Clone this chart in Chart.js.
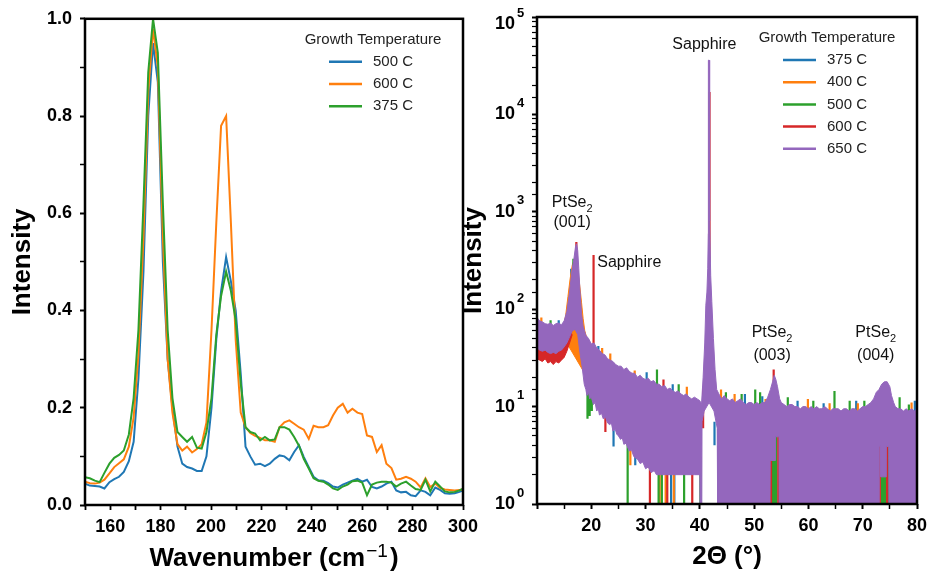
<!DOCTYPE html>
<html>
<head>
<meta charset="utf-8">
<title>PtSe2 Raman and XRD</title>
<script src="https://cdn.jsdelivr.net/npm/chart.js@4.4.1/dist/chart.umd.min.js"></script>
<style>
  body { margin: 0; background: #fff; }
  #wrap { position: relative; width: 929px; height: 576px; overflow: hidden; }
  #raman { position: absolute; left: 0; top: 0; }
  #xrd { position: absolute; left: 460px; top: 0; }
</style>
</head>
<body>
<div id="wrap">
  <canvas id="raman" width="490" height="576"></canvas>
  <canvas id="xrd" width="480" height="576"></canvas>
</div>
<script>
const FONT = "'Liberation Sans', Arial, Helvetica, sans-serif";
Chart.defaults.font.family = FONT;
Chart.defaults.color = '#000';

const BLUE = '#1f77b4', ORANGE = '#ff7f0e', GREEN = '#2ca02c', RED = '#d62728', PURPLE = '#9467bd';

// ---- Raman spectra (normalised) ----
const ramanShift = [150.0, 151.9, 153.9, 155.8, 157.7, 159.7, 161.6, 163.5, 165.4, 167.4,
  169.3, 171.2, 173.2, 175.1, 177.0, 178.9, 180.9, 182.8, 184.7, 186.7,
  188.6, 190.5, 192.5, 194.4, 196.3, 198.2, 200.2, 202.1, 204.0, 206.0,
  207.9, 209.8, 211.8, 213.7, 215.6, 217.5, 219.5, 221.4, 223.3, 225.3,
  227.2, 229.1, 231.1, 233.0, 234.9, 236.8, 238.8, 240.7, 242.6, 244.6,
  246.5, 248.4, 250.3, 252.3, 254.2, 256.1, 258.1, 260.0, 261.9, 263.9,
  265.8, 267.7, 269.6, 271.6, 273.5, 275.4, 277.4, 279.3, 281.2, 283.2,
  285.1, 287.0, 289.0, 290.9, 292.8, 294.7, 296.7, 298.6, 300.5];

const raman500 = [0.044, 0.040, 0.039, 0.038, 0.034, 0.047, 0.053, 0.058, 0.068, 0.090,
  0.130, 0.260, 0.480, 0.800, 0.950, 0.870, 0.500, 0.300, 0.200, 0.120,
  0.085, 0.078, 0.075, 0.070, 0.070, 0.100, 0.200, 0.340, 0.440, 0.510,
  0.460, 0.400, 0.270, 0.120, 0.100, 0.083, 0.085, 0.080, 0.085, 0.095,
  0.102, 0.100, 0.092, 0.109, 0.123, 0.099, 0.078, 0.058, 0.051, 0.050,
  0.045, 0.038, 0.036, 0.042, 0.046, 0.050, 0.054, 0.048, 0.052, 0.037,
  0.034, 0.038, 0.044, 0.048, 0.030, 0.026, 0.027, 0.020, 0.018, 0.030,
  0.027, 0.020, 0.036, 0.031, 0.024, 0.023, 0.024, 0.027, 0.031];

const raman600 = [0.048, 0.045, 0.044, 0.046, 0.052, 0.065, 0.078, 0.086, 0.094, 0.120,
  0.180, 0.310, 0.550, 0.850, 0.980, 0.900, 0.550, 0.300, 0.190, 0.125,
  0.112, 0.120, 0.108, 0.115, 0.125, 0.170, 0.360, 0.580, 0.780, 0.800,
  0.580, 0.340, 0.190, 0.160, 0.148, 0.142, 0.138, 0.133, 0.133, 0.130,
  0.160, 0.170, 0.174, 0.167, 0.160, 0.155, 0.136, 0.163, 0.160, 0.160,
  0.164, 0.184, 0.200, 0.208, 0.190, 0.198, 0.190, 0.187, 0.143, 0.140,
  0.109, 0.123, 0.085, 0.076, 0.052, 0.054, 0.058, 0.054, 0.048, 0.036,
  0.055, 0.037, 0.044, 0.035, 0.032, 0.031, 0.030, 0.031, 0.032];

const raman375 = [0.057, 0.055, 0.050, 0.047, 0.066, 0.085, 0.097, 0.103, 0.112, 0.145,
  0.220, 0.360, 0.620, 0.890, 1.000, 0.930, 0.620, 0.360, 0.220, 0.150,
  0.140, 0.130, 0.140, 0.118, 0.116, 0.150, 0.220, 0.350, 0.430, 0.480,
  0.440, 0.380, 0.250, 0.160, 0.150, 0.147, 0.133, 0.140, 0.133, 0.135,
  0.160, 0.160, 0.155, 0.140, 0.122, 0.095, 0.075, 0.055, 0.050, 0.048,
  0.042, 0.034, 0.031, 0.038, 0.042, 0.049, 0.050, 0.046, 0.020, 0.042,
  0.046, 0.048, 0.048, 0.046, 0.038, 0.044, 0.048, 0.040, 0.033, 0.031,
  0.052, 0.028, 0.048, 0.038, 0.028, 0.026, 0.027, 0.030, 0.035];

const ramanLegend = ['500 C', '600 C', '375 C'];
const ramanColors = [BLUE, ORANGE, GREEN];

// ---- XRD scans: [2theta, counts] envelopes of the noisy traces ----
const xrdHi650 = [[10.0,82],[10.5,76],[11.0,74],[11.5,71],[12.0,70],[12.5,72],[13.0,68],[13.5,71],[14.0,72],[14.5,69],
  [15.0,76],[15.5,95],[16.0,150],[16.4,240],[16.8,330],[17.1,440],[17.3,470],[17.5,400],[17.7,260],[17.9,160],
  [18.2,90],[18.5,66],[19.0,54],[19.5,50],[20.0,44],[20.5,45],[21.0,40],[21.5,38],[22.0,35],[22.5,34],
  [23.0,31],[23.5,30],[24.0,29],[24.5,27],[25.0,26],[25.5,26],[26.0,24],[26.5,25],[27.0,23],[27.5,22],
  [28.0,22],[28.5,20],[29.0,21],[29.5,19.5],[30.0,19],[30.5,19.5],[31.0,18],[31.5,18.5],[32.0,17],[32.5,17],
  [33.0,16],[33.5,16.5],[34.0,15],[34.5,15.5],[35.0,14.5],[35.5,14],[36.0,14.5],[36.5,13.5],[37.0,13],[37.5,13.5],
  [38.0,12.5],[38.5,12],[39.0,12.5],[39.5,12],[40.0,11.5],[40.3,10.5],[40.6,20],[40.9,45],[41.1,110],[41.3,150],
  [41.45,260],[41.55,600],[41.57,36000],[41.71,36000],[41.72,17000],[41.82,17000],[41.86,800],[42.0,220],[42.2,120],[42.5,50],
  [42.8,24],[43.1,15],[43.5,13.5],[44.0,12],[44.5,13],[45.0,12],[45.5,11.5],[46.0,12],[46.5,11],[47.0,11.5],
  [47.5,12],[48.0,11],[48.5,10.5],[49.0,11],[49.5,11],[50.0,10.5],[50.5,11],[51.0,10.5],[51.5,11],[52.0,11],
  [52.5,12.5],[53.0,15],[53.4,18],[53.7,21],[54.0,19],[54.3,16],[54.7,12],[55.0,11],[55.5,10.5],[56.0,10],
  [56.5,10.5],[57.0,10.5],[57.5,10],[58.0,10],[58.5,9.5],[59.0,10],[59.5,10],[60.0,9.5],[60.5,10],[61.0,9.5],
  [61.5,10],[62.0,9.5],[62.5,9.5],[63.0,10],[63.5,9.5],[64.0,9],[64.5,9.5],[65.0,9.5],[65.5,9.5],[66.0,9],
  [66.5,9.5],[67.0,9.5],[67.5,9],[68.0,9.5],[68.5,9.5],[69.0,9],[69.5,9.5],[70.0,10],[70.5,10],[71.0,10.5],
  [71.5,11],[72.0,12],[72.5,14],[73.0,15],[73.5,17],[74.0,18],[74.5,18],[75.0,16],[75.3,13],[75.7,11],
  [76.0,10],[76.5,9.5],[77.0,9.5],[77.5,9],[78.0,9.5],[78.5,9],[79.0,9.5],[79.5,9],[80.0,9.5]];

const xrdLo650 = [[10.0,40],[10.5,38],[11.0,37],[11.5,38],[12.0,36],[12.5,35],[13.0,36],[13.5,35],[14.0,37],[14.5,38],
  [15.0,41],[15.5,45],[16.0,52],[16.5,60],[17.0,62],[17.5,55],[17.9,36],[18.3,26],[18.7,17],[19.0,15],
  [19.2,13],[19.5,14],[19.7,12],[20.0,12.5],[20.4,10.5],[20.7,11],[21.0,9],[21.3,9.5],[21.5,8.2],[21.9,8.5],
  [22.2,7.5],[22.6,7.8],[23.0,6.8],[23.4,6.5],[23.7,6.8],[24.0,5.6],[24.4,5.9],[24.7,5.2],[25.0,5.0],[25.4,4.6],
  [25.7,4.8],[26.0,4.1],[26.4,4.2],[26.8,3.7],[27.0,3.5],[27.4,3.6],[27.8,3.1],[28.0,3.0],[28.5,2.9],[29.0,2.6],
  [29.5,2.7],[30.0,2.3],[30.5,2.4],[31.0,2.1],[31.6,2.2],[32.0,2.0],[33.0,2.0],[35.0,2.0],[37.0,2.0],[39.0,2.0],
  [40.0,2.0],[40.05,0.5],[40.35,0.5],[40.4,7],[40.8,9],[41.7,11],[42.6,9],[43.2,6],[43.3,0.5],[52.9,0.5],
  [52.95,2.8],[53.9,2.8],[53.95,4.9],[54.6,4.9],[54.65,0.5],[73.0,0.5],[73.05,3.9],[73.3,3.9],[73.35,1.9],[74.3,1.9],
  [74.35,3.9],[74.8,3.9],[74.85,0.5],[80.0,0.5]];

const xrdHi600 = [[10.0,55],[16.5,60]];
const xrdLo600 = [[10.0,31],[10.5,30],[11.0,29],[11.5,31],[12.0,28],[12.5,29],[13.0,27],[13.5,29],[14.0,28],[14.5,30],
  [15.0,32],[15.5,37],[16.0,45],[16.5,55]];

const xrdHi400 = [[15.0,70],[15.3,88],[15.7,135],[16.1,205],[16.5,285],[16.9,330],[17.3,300],[17.6,230],[17.9,170],[18.2,118],
  [18.5,80],[18.8,60],[19.2,50]];
const xrdLo400 = [[15.0,50],[19.2,20]];

// single noisy channels that poke out of the 650 C trace: [2theta, low, high]
const spikes375 = [[14.0,60,77],[16.3,120,260],[21.3,34,42],[24.1,3.9,7],[28.1,2.5,4],[30.2,15,22.5],[34.7,0.5,2.5],
  [35.0,12,17],[35.3,0.5,2.5],[42.7,4,7],[48.3,9,13.5],[51.5,9,12.8],[58.0,8.5,11.5],[62.8,8.5,10.8],[68.8,8.5,11.5],
  [79.6,8.5,11.5]];
const spikes400 = [[10.8,60,82],[22.0,28,40],[23.5,26,35],[27.2,2.5,4],[28.0,15,23.5],[32.6,0.5,2.5],[33.7,0.5,2.5],
  [35.2,0.5,2.5],[37.6,11,16],[43.9,10,15],[46.4,10,13.5],[52.1,9,12],[59.9,8.5,12],[63.9,8,10.8],[69.1,8,10.8],
  [79.0,8.5,11]];
const spikes500 = [[12.5,60,77],[16.7,150,330],[19.3,7.5,20],[19.7,8,18],[20.1,9,14],[26.7,0.5,5],[32.1,15,24],
  [32.4,0.5,2.5],[33.0,0.5,2.5],[36.1,12,17],[37.1,0.5,2.5],[40.1,0.5,3],[44.8,10,14],[47.7,9,13.5],[50.2,9,15],
  [51.1,9,14],[53.45,0.5,5],[53.8,0.5,5],[54.1,0.5,5],[56.2,9,12.5],[60.9,8,11.5],[64.8,8.5,14.5],[67.6,8.5,11.5],
  [70.3,8.5,11.5],[73.5,0.5,4],[73.85,0.5,4],[74.2,0.5,4],[74.75,0.5,4],[76.8,8.5,12.5],[78.5,8,10.5]];
const spikes600 = [[17.25,150,490],[20.42,30,360],[22.6,5.5,9],[25.5,5,8],[28.8,3.6,6],[30.8,0.5,4],[33.3,12,19],
  [34.0,0.5,2.5],[38.6,0.5,2.5],[40.6,6,16],[41.78,300,17000],[49.9,6,9.5],[53.1,0.5,5],[53.6,12,24],[54.45,0.5,5],
  [62.0,6.5,9],[66.0,7,9],[73.15,0.5,4],[74.5,0.5,4]];

const xrdLegend = ['375 C', '400 C', '500 C', '600 C', '650 C'];
const xrdColors = [BLUE, ORANGE, GREEN, RED, PURPLE];
const xrdDecades = [0, 1, 2, 3, 4, 5];

// peak labels, placed in data coordinates
const xrdNotes = [
  { x: 40.83, y: 51600, text: 'Sapphire', align: 'center' },
  { x: 16.48, y: 1230, text: 'PtSe', sub: '2', align: 'center' },
  { x: 16.48, y: 776, text: '(001)', align: 'center' },
  { x: 21.1, y: 298, text: 'Sapphire', align: 'left' },
  { x: 53.3, y: 57, text: 'PtSe', sub: '2', align: 'center' },
  { x: 53.3, y: 33.5, text: '(003)', align: 'center' },
  { x: 72.4, y: 57, text: 'PtSe', sub: '2', align: 'center' },
  { x: 72.4, y: 33.5, text: '(004)', align: 'center' }
];

const toPoints = (xs, ys) => xs.map((x, i) => ({ x: x, y: ys[i] }));
const pairs = arr => arr.map(([x, y]) => ({ x: x, y: y }));
const spikeLine = arr => arr.flatMap(([x, lo, hi]) => [{ x: x, y: lo }, { x: x, y: hi }, { x: x, y: null }]);

// frame, legend, labels and the odd axis texts
const panelDecor = {
  id: 'panelDecor',
  afterDraw(chart, args, opts) {
    const ctx = chart.ctx;
    const a = chart.chartArea;
    ctx.save();
    ctx.strokeStyle = '#000';
    ctx.lineWidth = 2.5;
    ctx.strokeRect(a.left, a.top, a.right - a.left, a.bottom - a.top);

    if (opts.legend) {
      const lg = opts.legend;
      ctx.font = '15px ' + FONT;
      ctx.fillStyle = '#222';
      ctx.textBaseline = 'middle';
      ctx.textAlign = 'center';
      ctx.fillText(lg.title, a.right - 90, a.top + 21);
      ctx.textAlign = 'left';
      lg.labels.forEach((label, i) => {
        const y = a.top + 43 + i * 22.2;
        ctx.strokeStyle = lg.colors[i];
        ctx.lineWidth = 2.5;
        ctx.beginPath();
        ctx.moveTo(a.right - 134, y);
        ctx.lineTo(a.right - 101, y);
        ctx.stroke();
        ctx.fillText(label, a.right - 90, y);
      });
    }

    if (opts.notes) {
      const sx = chart.scales.x, sy = chart.scales.y;
      ctx.fillStyle = '#111';
      ctx.textBaseline = 'middle';
      ctx.textAlign = 'left';
      opts.notes.forEach(n => {
        const px = sx.getPixelForValue(n.x);
        const py = sy.getPixelForValue(n.y);
        ctx.font = '16px ' + FONT;
        const wb = ctx.measureText(n.text).width;
        let ws = 0;
        if (n.sub) {
          ctx.font = '11px ' + FONT;
          ws = ctx.measureText(n.sub).width;
        }
        const x0 = n.align === 'center' ? px - (wb + ws) / 2 : px;
        ctx.font = '16px ' + FONT;
        ctx.fillText(n.text, x0, py);
        if (n.sub) {
          ctx.font = '11px ' + FONT;
          ctx.fillText(n.sub, x0 + wb, py + 6);
        }
      });
    }

    if (opts.decades) {
      const sy = chart.scales.y;
      ctx.fillStyle = '#000';
      ctx.textBaseline = 'middle';
      opts.decades.forEach(p => {
        const py = Math.max(sy.getPixelForValue(Math.pow(10, p)), a.top + 7);
        ctx.font = 'bold 18px ' + FONT;
        ctx.textAlign = 'right';
        ctx.fillText('10', a.left - 22, py);
        ctx.font = 'bold 13px ' + FONT;
        ctx.textAlign = 'left';
        ctx.fillText(String(p), a.left - 20, py - 11);
      });
    }

    if (opts.xTitle) {
      const t = opts.xTitle;
      ctx.fillStyle = '#000';
      ctx.textBaseline = 'alphabetic';
      ctx.textAlign = 'left';
      ctx.font = 'bold 26px ' + FONT;
      const w1 = ctx.measureText(t.main).width;
      const w3 = ctx.measureText(t.tail).width;
      ctx.font = '19px ' + FONT;
      const w2 = ctx.measureText(t.sup).width;
      let x = (a.left + a.right) / 2 - (w1 + w2 + w3 + 3) / 2;
      const base = 566;
      ctx.font = 'bold 26px ' + FONT;
      ctx.fillText(t.main, x, base);
      x += w1 + 1;
      ctx.font = '19px ' + FONT;
      ctx.fillText(t.sup, x, base - 9);
      x += w2 + 2;
      ctx.font = 'bold 26px ' + FONT;
      ctx.fillText(t.tail, x, base);
    }
    ctx.restore();
  }
};

const tickFont = { size: 18, weight: 'bold' };
const titleFont = { size: 26, weight: 'bold', lineHeight: 1 };

function tickGrid(widthFn) {
  return { drawOnChartArea: false, drawTicks: true, tickLength: 5, tickColor: '#000', tickWidth: widthFn };
}

// Raman panel
new Chart(document.getElementById('raman'), {
  type: 'line',
  data: {
    datasets: [
      { label: '375 C', data: toPoints(ramanShift, raman375), borderColor: GREEN, order: 0 },
      { label: '600 C', data: toPoints(ramanShift, raman600), borderColor: ORANGE, order: 1 },
      { label: '500 C', data: toPoints(ramanShift, raman500), borderColor: BLUE, order: 2 }
    ]
  },
  options: {
    responsive: false,
    animation: false,
    events: [],
    layout: { padding: { left: 0, right: 27, top: 17, bottom: 0 } },
    elements: { point: { radius: 0 }, line: { borderWidth: 2, tension: 0, fill: false } },
    plugins: {
      legend: { display: false },
      tooltip: { enabled: false },
      panelDecor: {
        legend: { title: 'Growth Temperature', labels: ramanLegend, colors: ramanColors },
        xTitle: { main: 'Wavenumber (cm', sup: '\u22121', tail: ')' }
      }
    },
    scales: {
      x: {
        type: 'linear', min: 150, max: 300,
        afterFit: s => { s.height = 71; },
        border: { display: false },
        grid: tickGrid(1.8),
        ticks: {
          stepSize: 10, autoSkip: false, maxRotation: 0, padding: 6, font: tickFont, color: '#000',
          callback: v => (v >= 160 && v % 20 === 0) ? String(v) : ''
        }
      },
      y: {
        type: 'linear', min: 0, max: 1,
        afterFit: s => { s.width = 85; },
        border: { display: false },
        grid: tickGrid(c => Math.round(c.tick.value * 10) % 2 === 0 ? 2 : 1.5),
        ticks: {
          stepSize: 0.1, autoSkip: false, padding: 8, font: tickFont, color: '#000',
          callback: v => Math.round(v * 10) % 2 === 0 ? v.toFixed(1) : ''
        },
        title: { display: true, text: 'Intensity', font: titleFont, color: '#000', padding: { top: 10, bottom: 0 } }
      }
    }
  },
  plugins: [panelDecor]
});

// XRD panel
const bandLine = { pointRadius: 0, tension: 0, clip: 0 };
new Chart(document.getElementById('xrd'), {
  type: 'line',
  data: {
    datasets: [
      Object.assign({ label: '650 C low', data: pairs(xrdLo650), borderColor: PURPLE, borderWidth: 1, fill: false, order: 0 }, bandLine),
      Object.assign({ label: '650 C', data: pairs(xrdHi650), borderColor: PURPLE, borderWidth: 1, backgroundColor: PURPLE, fill: '-1', order: 0 }, bandLine),
      Object.assign({ label: '600 C low', data: pairs(xrdLo600), borderColor: RED, borderWidth: 1, fill: false, order: 1 }, bandLine),
      Object.assign({ label: '600 C', data: pairs(xrdHi600), borderColor: RED, borderWidth: 1, backgroundColor: RED, fill: '-1', order: 1 }, bandLine),
      Object.assign({ label: '600 C spikes', data: spikeLine(spikes600), borderColor: RED, borderWidth: 2.2, borderCapStyle: 'butt', order: 1 }, bandLine),
      Object.assign({ label: '500 C spikes', data: spikeLine(spikes500), borderColor: GREEN, borderWidth: 2.2, borderCapStyle: 'butt', order: 2 }, bandLine),
      Object.assign({ label: '400 C low', data: pairs(xrdLo400), borderColor: ORANGE, borderWidth: 1, fill: false, order: 3 }, bandLine),
      Object.assign({ label: '400 C', data: pairs(xrdHi400), borderColor: ORANGE, borderWidth: 1, backgroundColor: ORANGE, fill: '-1', order: 3 }, bandLine),
      Object.assign({ label: '400 C spikes', data: spikeLine(spikes400), borderColor: ORANGE, borderWidth: 2.2, borderCapStyle: 'butt', order: 3 }, bandLine),
      Object.assign({ label: '375 C spikes', data: spikeLine(spikes375), borderColor: BLUE, borderWidth: 2.2, borderCapStyle: 'butt', order: 4 }, bandLine)
    ]
  },
  options: {
    responsive: false,
    animation: false,
    events: [],
    spanGaps: false,
    layout: { padding: { left: 0, right: 23, top: 17, bottom: 0 } },
    plugins: {
      legend: { display: false },
      tooltip: { enabled: false },
      panelDecor: {
        legend: { title: 'Growth Temperature', labels: xrdLegend, colors: xrdColors },
        notes: xrdNotes,
        decades: xrdDecades
      }
    },
    scales: {
      x: {
        type: 'linear', min: 10, max: 80,
        afterFit: s => { s.height = 72; },
        border: { display: false },
        grid: tickGrid(c => c.tick.value % 10 === 0 ? 2 : 1.5),
        ticks: {
          stepSize: 5, autoSkip: false, maxRotation: 0, padding: 6, font: tickFont, color: '#000',
          callback: v => (v >= 20 && v % 10 === 0) ? String(v) : ''
        },
        title: { display: true, text: '2\u0398 (\u00b0)', font: titleFont, color: '#000', padding: { top: 0, bottom: 6 } }
      },
      y: {
        type: 'logarithmic', min: 1, max: 100000, stacked: false,
        afterFit: s => { s.width = 77; },
        border: { display: false },
        grid: tickGrid(c => {
          const e = Math.log10(c.tick.value);
          return Math.abs(e - Math.round(e)) < 1e-6 ? 2 : 1.2;
        }),
        ticks: { autoSkip: false, font: tickFont, callback: () => '' },
        title: { display: true, text: 'Intensity', font: titleFont, color: '#000', padding: { top: 1, bottom: 0 } }
      }
    }
  },
  plugins: [panelDecor]
});
</script>
</body>
</html>
